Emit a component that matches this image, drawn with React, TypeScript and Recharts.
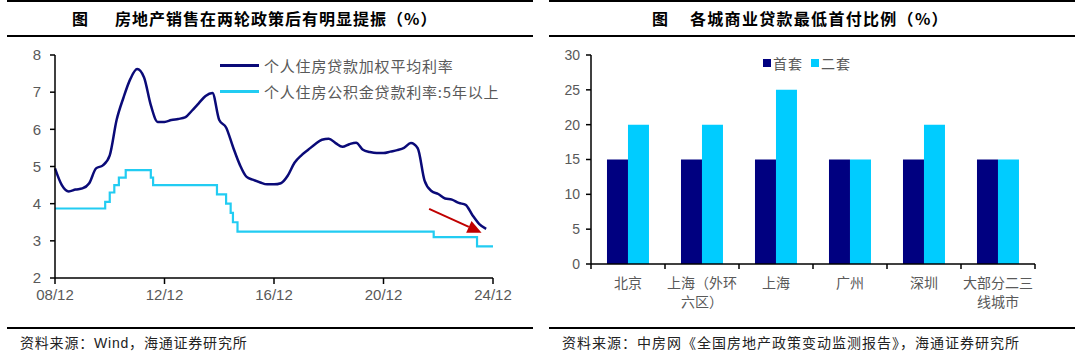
import React from 'react';
import { LineChart, Line, XAxis, YAxis, BarChart, Bar, Legend, ReferenceLine } from 'recharts';

// ---------- Left chart data ----------
const rateQuarters = [
  '2008-12',
  '2009-03', '2009-06', '2009-09', '2009-12',
  '2010-03', '2010-06', '2010-09', '2010-12',
  '2011-03', '2011-06', '2011-09', '2011-12',
  '2012-03', '2012-06', '2012-09', '2012-12',
  '2013-03', '2013-06', '2013-09', '2013-12',
  '2014-03', '2014-06', '2014-09', '2014-12',
  '2015-03', '2015-06', '2015-09', '2015-12',
  '2016-03', '2016-06', '2016-09', '2016-12',
  '2017-03', '2017-06', '2017-09', '2017-12',
  '2018-03', '2018-06', '2018-09', '2018-12',
  '2019-03', '2019-06', '2019-09', '2019-12',
  '2020-03', '2020-06', '2020-09', '2020-12',
  '2021-03', '2021-06', '2021-09', '2021-12',
  '2022-03', '2022-06', '2022-09', '2022-12',
  '2023-03', '2023-06', '2023-09', '2023-12',
  '2024-03', '2024-06', '2024-09',
];
const rateValues = [
  4.95,
  4.50, 4.33, 4.38, 4.41,
  4.55, 4.95, 5.03, 5.30,
  6.25, 6.85, 7.35, 7.62,
  7.40, 6.65, 6.20, 6.20,
  6.25, 6.28, 6.32, 6.50,
  6.70, 6.90, 6.98, 6.25,
  6.05, 5.53, 5.05, 4.72,
  4.64, 4.57, 4.52, 4.52,
  4.55, 4.75, 5.10, 5.30,
  5.45, 5.60, 5.72, 5.75,
  5.63, 5.53, 5.60, 5.64,
  5.45, 5.39, 5.36, 5.36,
  5.40, 5.44, 5.50, 5.63,
  5.49, 4.62, 4.34, 4.26,
  4.14, 4.11, 4.02, 3.97,
  3.69, 3.45, 3.32,
];

const pfDates = ['2008-12', '2010-10', '2010-12', '2011-02', '2011-04', '2011-07', '2012-06', '2012-07', '2014-11', '2015-03', '2015-05', '2015-06', '2015-08', '2022-10', '2024-05', '2024-12'];
const pfValues = [3.87, 4.05, 4.30, 4.50, 4.70, 4.90, 4.70, 4.50, 4.25, 4.00, 3.75, 3.50, 3.25, 3.10, 2.85, 2.85];

const leftSeriesNames = ['个人住房贷款加权平均利率', '个人住房公积金贷款利率:5年以上'];
const leftSeriesColors = ['#0A0A78', '#22CCF2'];

const xTickDates = ['2008-12', '2012-12', '2016-12', '2020-12', '2024-12'];
const xTickLabels = ['08/12', '12/12', '16/12', '20/12', '24/12'];
const leftYTicks = [2, 3, 4, 5, 6, 7, 8];

const arrowStart = { date: '2022-08', value: 3.86 };
const arrowEnd = { date: '2024-07', value: 3.22 };

// ---------- Right chart data ----------
const cities = ['北京', '上海（外环六区）', '上海', '广州', '深圳', '大部分二三线城市'];
const firstHomeValues = [15, 15, 15, 15, 15, 15];
const secondHomeValues = [20, 20, 25, 15, 20, 15];
const rightSeriesNames = ['首套', '二套'];
const rightSeriesColors = ['#000080', '#00CCFF'];
const rightYTicks = [0, 5, 10, 15, 20, 25, 30];

// ---------- helpers ----------
const toT = (s: string) => {
  const [y, m] = s.split('-').map(Number);
  return y + (m - 1) / 12;
};

const rateData = rateQuarters.map((q, i) => ({ t: toT(q), v: rateValues[i] }));
const pfData = pfDates.map((d, i) => ({ t: toT(d), v: pfValues[i] }));
const xTicks = xTickDates.map(toT);
const barData = cities.map((c, i) => ({ city: c, first: firstHomeValues[i], second: secondHomeValues[i] }));

const NUM_FONT = "'Liberation Sans', Arial, 'Noto Sans CJK SC', sans-serif";
const CJK_FONT = "'Noto Sans CJK SC', sans-serif";
const GRAY = '#595959';

const ArrowShape = (p: any) => {
  const { x1, y1, x2, y2 } = p;
  const dx = x2 - x1;
  const dy = y2 - y1;
  const len = Math.hypot(dx, dy) || 1;
  const ux = dx / len;
  const uy = dy / len;
  const hl = 14;
  const hw = 6.5;
  const bx = x2 - ux * hl;
  const by = y2 - uy * hl;
  return (
    <g>
      <line x1={x1} y1={y1} x2={bx} y2={by} stroke="#C00000" strokeWidth={2} />
      <polygon
        points={`${x2},${y2} ${bx - uy * hw},${by + ux * hw} ${bx + uy * hw},${by - ux * hw}`}
        fill="#C00000"
      />
    </g>
  );
};

const LeftLegend = () => (
  <div style={{ fontFamily: NUM_FONT }}>
    {leftSeriesNames.map((n, i) => (
      <div key={n} style={{ display: 'flex', alignItems: 'center', height: 26 }}>
        <div style={{ width: 39, height: 3, background: leftSeriesColors[i], marginRight: 5 }} />
        <span style={{ fontSize: 15, color: GRAY, letterSpacing: 0.8, whiteSpace: 'nowrap', fontFamily: CJK_FONT }}>{n}</span>
      </div>
    ))}
  </div>
);

const RightLegend = () => (
  <div style={{ display: 'flex', alignItems: 'center' }}>
    {rightSeriesNames.map((n, i) => (
      <div key={n} style={{ display: 'flex', alignItems: 'center', marginRight: 8 }}>
        <div style={{ width: 8, height: 8, background: rightSeriesColors[i], marginRight: 2 }} />
        <span style={{ fontSize: 14, color: GRAY, fontFamily: CJK_FONT, letterSpacing: 1 }}>{n}</span>
      </div>
    ))}
  </div>
);

const CityTick = (props: any) => {
  const { x, y, payload, index, visibleTicksCount, width } = props;
  const half = payload && typeof payload.offset === 'number' && payload.offset > 0
    ? payload.offset
    : width / visibleTicksCount / 2;
  const label: string = String(payload.value);
  const lines = label.length > 5 ? [label.slice(0, 5), label.slice(5)] : [label];
  const count = visibleTicksCount || cities.length;
  return (
    <g>
      <line x1={x - half} y1={y} x2={x - half} y2={y + 5} stroke="#000" strokeWidth={1.5} />
      {index === count - 1 && (
        <line x1={x + half} y1={y} x2={x + half} y2={y + 5} stroke="#000" strokeWidth={1.5} />
      )}
      {lines.map((l, i) => (
        <text
          key={i}
          x={x}
          y={y + 24 + i * 19}
          textAnchor="middle"
          fontSize={14}
          fill={GRAY}
          fontFamily={CJK_FONT}
        >
          {l}
        </text>
      ))}
    </g>
  );
};

const Rule = ({ left, top, width, height }: { left: number; top: number; width: number; height: number }) => (
  <div style={{ position: 'absolute', left, top, width, height, background: '#000' }} />
);

export default function App() {
  return (
    <div style={{ position: 'absolute', left: 0, top: 0, width: 1080, height: 358, background: '#fff', overflow: 'hidden' }}>
      {/* Titles */}
      <Rule left={7} top={0} width={526} height={2} />
      <Rule left={7} top={35} width={526} height={2} />
      <Rule left={549} top={0} width={526} height={2} />
      <Rule left={549} top={35} width={526} height={2} />
      <div style={{ position: 'absolute', left: 72, top: 7, fontFamily: CJK_FONT, fontWeight: 700, fontSize: 16, lineHeight: '22px', color: '#000' }}>图</div>
      <div style={{ position: 'absolute', left: 115, top: 7, fontFamily: CJK_FONT, fontWeight: 700, fontSize: 16, lineHeight: '22px', color: '#000', letterSpacing: 1, whiteSpace: 'nowrap' }}>
        房地产销售在两轮政策后有明显提振（%）
      </div>
      <div style={{ position: 'absolute', left: 652, top: 7, fontFamily: CJK_FONT, fontWeight: 700, fontSize: 16, lineHeight: '22px', color: '#000' }}>图</div>
      <div style={{ position: 'absolute', left: 690, top: 7, fontFamily: CJK_FONT, fontWeight: 700, fontSize: 16, lineHeight: '22px', color: '#000', letterSpacing: 1.3, whiteSpace: 'nowrap' }}>
        各城商业贷款最低首付比例（%）
      </div>

      {/* Left chart */}
      <div style={{ position: 'absolute', left: 0, top: 0 }}>
        <LineChart width={540} height={310} margin={{ top: 55, right: 47, bottom: 2, left: 15 }}>
          <XAxis
            type="number"
            dataKey="t"
            domain={[xTicks[0], xTicks[xTicks.length - 1]]}
            ticks={xTicks}
            interval={0}
            tickFormatter={(v: number) => {
              const i = xTicks.findIndex((t) => Math.abs(t - v) < 1e-6);
              return i >= 0 ? xTickLabels[i] : '';
            }}
            height={30}
            tickSize={6}
            tickMargin={5}
            axisLine={{ stroke: '#000', strokeWidth: 1.5 }}
            tickLine={{ stroke: '#000', strokeWidth: 1.5 }}
            tick={{ fontSize: 15, fill: GRAY, fontFamily: NUM_FONT }}
          />
          <YAxis
            type="number"
            domain={[2, 8]}
            ticks={leftYTicks}
            interval={0}
            width={40}
            tickSize={5}
            tickMargin={9}
            axisLine={{ stroke: '#000', strokeWidth: 1.5 }}
            tickLine={{ stroke: '#000', strokeWidth: 1.5 }}
            tick={{ fontSize: 15, fill: GRAY, fontFamily: NUM_FONT }}
          />
          <Legend
            layout="vertical"
            align="center"
            verticalAlign="middle"
            content={<LeftLegend />}
            wrapperStyle={{ left: 220, top: 52, width: 320 }}
          />
          <Line
            data={pfData}
            dataKey="v"
            name={leftSeriesNames[1]}
            type="stepAfter"
            stroke={leftSeriesColors[1]}
            strokeWidth={2.2}
            dot={false}
            isAnimationActive={false}
          />
          <Line
            data={rateData}
            dataKey="v"
            name={leftSeriesNames[0]}
            type="monotone"
            stroke={leftSeriesColors[0]}
            strokeWidth={2.5}
            dot={false}
            isAnimationActive={false}
          />
          <ReferenceLine
            segment={[
              { x: toT(arrowStart.date), y: arrowStart.value },
              { x: toT(arrowEnd.date), y: arrowEnd.value },
            ]}
            ifOverflow="visible"
            shape={ArrowShape}
          />
        </LineChart>
      </div>

      {/* Right chart */}
      <div style={{ position: 'absolute', left: 540, top: 0 }}>
        <BarChart
          width={540}
          height={310}
          data={barData}
          margin={{ top: 55, right: 45, bottom: 2, left: 16 }}
          barCategoryGap="21.6%"
          barGap={0}
        >
          <XAxis
            dataKey="city"
            interval={0}
            height={44}
            tickSize={0}
            tickMargin={0}
            tickLine={false}
            axisLine={{ stroke: '#000', strokeWidth: 1.5 }}
            tick={<CityTick />}
          />
          <YAxis
            type="number"
            domain={[0, 30]}
            ticks={rightYTicks}
            interval={0}
            width={35}
            tickSize={5}
            tickMargin={6}
            axisLine={{ stroke: '#000', strokeWidth: 1.5 }}
            tickLine={{ stroke: '#000', strokeWidth: 1.5 }}
            tick={{ fontSize: 14, fill: GRAY, fontFamily: NUM_FONT }}
          />
          <Legend
            layout="vertical"
            align="center"
            verticalAlign="middle"
            content={<RightLegend />}
            wrapperStyle={{ left: 223, top: 53, width: 200 }}
          />
          <Bar dataKey="first" name={rightSeriesNames[0]} fill={rightSeriesColors[0]} isAnimationActive={false} />
          <Bar dataKey="second" name={rightSeriesNames[1]} fill={rightSeriesColors[1]} isAnimationActive={false} />
        </BarChart>
      </div>

      {/* Sources */}
      <Rule left={7} top={327} width={526} height={1.5} />
      <Rule left={549} top={327} width={526} height={1.5} />
      <div style={{ position: 'absolute', left: 20, top: 334, fontFamily: NUM_FONT, fontSize: 14, lineHeight: '18px', color: '#222', letterSpacing: 0.8, whiteSpace: 'nowrap' }}>
        资料来源：Wind，海通证券研究所
      </div>
      <div style={{ position: 'absolute', left: 562, top: 334, fontFamily: NUM_FONT, fontSize: 14, lineHeight: '18px', color: '#222', letterSpacing: 1, whiteSpace: 'nowrap' }}>
        资料来源：中房网《全国房地产政策变动监测报告》，海通证券研究所
      </div>
    </div>
  );
}
